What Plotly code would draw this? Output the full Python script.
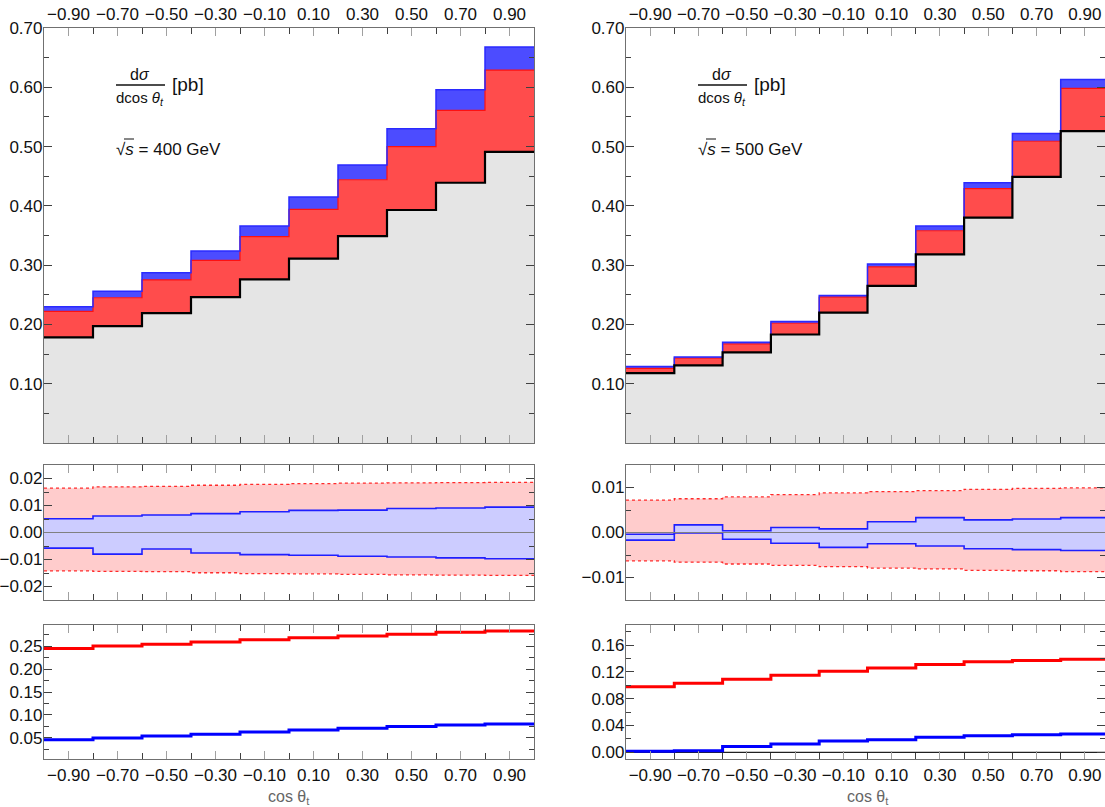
import plotly.graph_objects as go

W, H = 1105, 807
OFF = 0

# ---------------- data ----------------
bin_edges = [-1.0, -0.8, -0.6, -0.4, -0.2, 0.0, 0.2, 0.4, 0.6, 0.8, 1.0]
tick_centers = [-0.9, -0.7, -0.5, -0.3, -0.1, 0.1, 0.3, 0.5, 0.7, 0.9]
tick_labels = ["−0.90", "−0.70", "−0.50", "−0.30", "−0.10", "0.10", "0.30", "0.50", "0.70", "0.90"]

# sqrt(s) = 400 GeV : distributions [pb]
lo_400 = [0.178, 0.197, 0.219, 0.246, 0.276, 0.311, 0.349, 0.393, 0.439, 0.491]
red_400 = [0.222, 0.245, 0.275, 0.308, 0.348, 0.394, 0.444, 0.500, 0.561, 0.629]
blue_400 = [0.230, 0.256, 0.287, 0.324, 0.366, 0.415, 0.469, 0.530, 0.596, 0.668]

# sqrt(s) = 500 GeV
lo_500 = [0.118, 0.131, 0.153, 0.183, 0.220, 0.265, 0.318, 0.380, 0.449, 0.526]
red_500 = [0.126, 0.143, 0.167, 0.202, 0.246, 0.297, 0.358, 0.429, 0.509, 0.598]
blue_500 = [0.129, 0.145, 0.170, 0.205, 0.249, 0.302, 0.366, 0.439, 0.522, 0.613]

# middle panels: uncertainty bands
band_red_up_400 = [0.0164, 0.0169, 0.0171, 0.0175, 0.0178, 0.0181, 0.0183, 0.0184, 0.0185, 0.0186]
band_red_lo_400 = [-0.0142, -0.0144, -0.0145, -0.0149, -0.0152, -0.0153, -0.0155, -0.0157, -0.0158, -0.0159]
band_blue_up_400 = [0.0051, 0.0061, 0.0065, 0.0070, 0.0077, 0.0082, 0.0083, 0.0089, 0.0091, 0.0094]
band_blue_lo_400 = [-0.0058, -0.0080, -0.0061, -0.0076, -0.0082, -0.0084, -0.0088, -0.0091, -0.0094, -0.0097]

band_red_up_500 = [0.0072, 0.0075, 0.0079, 0.0084, 0.0088, 0.0091, 0.0093, 0.0096, 0.0098, 0.0099]
band_red_lo_500 = [-0.0063, -0.0066, -0.0070, -0.0073, -0.0076, -0.0079, -0.0081, -0.0084, -0.0085, -0.0087]
band_blue_up_500 = [-0.0004, 0.0017, 0.0004, 0.0011, 0.0008, 0.0024, 0.0033, 0.0028, 0.0030, 0.0033]
band_blue_lo_500 = [-0.0017, -0.0001, -0.0015, -0.0024, -0.0033, -0.0025, -0.0030, -0.0036, -0.0038, -0.0040]

# bottom panels: ratios
ratio_red_400 = [0.245, 0.250, 0.254, 0.259, 0.264, 0.268, 0.272, 0.276, 0.280, 0.283]
ratio_blue_400 = [0.046, 0.050, 0.054, 0.058, 0.063, 0.067, 0.071, 0.075, 0.078, 0.080]
ratio_red_500 = [0.098, 0.103, 0.109, 0.115, 0.121, 0.126, 0.131, 0.135, 0.137, 0.139]
ratio_blue_500 = [0.0015, 0.0025, 0.0085, 0.0124, 0.0169, 0.0189, 0.0224, 0.0248, 0.0263, 0.0273]

# ---------------- style ----------------
FONT = "Liberation Sans Narrow, Arial Narrow, Liberation Sans, Arial, sans-serif"
GRAY_FILL = "#e5e5e5"
RED_FILL = "#ff4c4c"
BLUE_FILL = "#4c4cff"
PINK = "#ffcccc"
LBLUE = "#ccccff"
FRAME = "#707070"


def px_x(p):
    return (p - OFF) / W


def px_y(p):
    return 1 - (p - OFF) / H


def step(vals):
    return list(vals) + [vals[-1]]


fig = go.Figure()


def add(trace, n):
    sfx = "" if n == 1 else str(n)
    trace.update(xaxis="x" + sfx, yaxis="y" + sfx, showlegend=False, hoverinfo="skip")
    fig.add_trace(trace)


def top_panel(n, lo, red, blue):
    add(go.Scatter(x=bin_edges, y=step(lo), mode="lines", line=dict(width=0, shape="hv"),
                   fill="tozeroy", fillcolor=GRAY_FILL), n)
    add(go.Scatter(x=bin_edges, y=step(red), mode="lines", line=dict(width=0, shape="hv"),
                   fill="tonexty", fillcolor=RED_FILL), n)
    add(go.Scatter(x=bin_edges, y=step(blue), mode="lines", line=dict(width=0, shape="hv"),
                   fill="tonexty", fillcolor=BLUE_FILL), n)
    add(go.Scatter(x=bin_edges, y=step(red), mode="lines", line=dict(width=1.2, shape="hv", color="#ff1010")), n)
    add(go.Scatter(x=bin_edges, y=step(blue), mode="lines", line=dict(width=1.5, shape="hv", color="#2a2aff")), n)
    add(go.Scatter(x=bin_edges, y=step(lo), mode="lines", line=dict(width=2.2, shape="hv", color="#000000")), n)


def mid_panel(n, rlo, rup, blo, bup):
    add(go.Scatter(x=bin_edges, y=step(rlo), mode="lines", line=dict(width=0, shape="hv")), n)
    add(go.Scatter(x=bin_edges, y=step(rup), mode="lines", line=dict(width=0, shape="hv"),
                   fill="tonexty", fillcolor=PINK), n)
    add(go.Scatter(x=bin_edges, y=step(blo), mode="lines", line=dict(width=0, shape="hv")), n)
    add(go.Scatter(x=bin_edges, y=step(bup), mode="lines", line=dict(width=0, shape="hv"),
                   fill="tonexty", fillcolor=LBLUE), n)
    for v in (rlo, rup):
        add(go.Scatter(x=bin_edges, y=step(v), mode="lines",
                       line=dict(width=1.3, shape="hv", color="#ff2a2a", dash="dot")), n)
    for v in (blo, bup):
        add(go.Scatter(x=bin_edges, y=step(v), mode="lines",
                       line=dict(width=1.6, shape="hv", color="#1f1fff")), n)


def bot_panel(n, rr, rb):
    add(go.Scatter(x=bin_edges, y=step(rr), mode="lines", line=dict(width=3, shape="hv", color="#ff0000")), n)
    add(go.Scatter(x=bin_edges, y=step(rb), mode="lines", line=dict(width=3, shape="hv", color="#0000ff")), n)


top_panel(1, lo_400, red_400, blue_400)
top_panel(2, lo_500, red_500, blue_500)
mid_panel(3, band_red_lo_400, band_red_up_400, band_blue_lo_400, band_blue_up_400)
mid_panel(4, band_red_lo_500, band_red_up_500, band_blue_lo_500, band_blue_up_500)
bot_panel(5, ratio_red_400, ratio_blue_400)
bot_panel(6, ratio_red_500, ratio_blue_500)

# ---------------- axes ----------------
left_dom = [px_x(44), px_x(534)]
right_dom = [px_x(626), px_x(1105)]
row_dom = {
    "top": [px_y(443), px_y(28)],
    "mid": [px_y(600), px_y(465)],
    "bot": [px_y(759), px_y(625)],
}
x_right_end = -1 + (1105 - 626) / 48.3 * 0.2


def xaxis(dom, anchor, labels, side, xmax=1.0):
    return dict(
        domain=dom, anchor=anchor, range=[-1, xmax], side=side, automargin=False,
        showline=True, linecolor=FRAME, linewidth=1.2, mirror="ticks",
        ticks="inside", ticklen=8, tickcolor="#a0a0a0", tickwidth=1.3,
        tickvals=tick_centers, ticktext=tick_labels, showticklabels=labels,
        minor=dict(tickvals=bin_edges[1:-1], ticks="inside", ticklen=6,
                   tickcolor="#404040", tickwidth=1),
        showgrid=False, zeroline=False,
        tickfont=dict(family=FONT, size=17, color="#111"),
    )


def yaxis(dom, anchor, rng, tv, fmt, minor_vals):
    return dict(
        domain=dom, anchor=anchor, range=rng, automargin=False,
        showline=True, linecolor=FRAME, linewidth=1.2, mirror="ticks",
        ticks="inside", ticklen=8, tickcolor="#404040", tickwidth=1.2,
        tickvals=tv, ticktext=[fmt(v) for v in tv], ticklabelstandoff=-3,
        minor=dict(tickvals=minor_vals, ticks="inside", ticklen=5,
                   tickcolor="#404040", tickwidth=1),
        showgrid=False, zeroline=False,
        tickfont=dict(family=FONT, size=17, color="#111"),
    )


def f2(v):
    s = f"{v:.2f}"
    return s.replace("-", "−")


top_y = [0.1, 0.2, 0.3, 0.4, 0.5, 0.6, 0.7]
top_minor = [0.05, 0.15, 0.25, 0.35, 0.45, 0.55, 0.65]
midl_y = [-0.02, -0.01, 0.0, 0.01, 0.02]
midl_minor = [-0.015, -0.005, 0.005, 0.015]
midr_y = [-0.01, 0.0, 0.01]
midr_minor = [-0.005, 0.005]
botl_y = [0.05, 0.10, 0.15, 0.20, 0.25]
botl_minor = [0.025, 0.075, 0.125, 0.175, 0.225, 0.275]
botr_y = [0.0, 0.04, 0.08, 0.12, 0.16]
botr_minor = [0.02, 0.06, 0.10, 0.14, 0.18]

fig.update_layout(
    xaxis=xaxis(left_dom, "y", True, "top"),
    xaxis2=xaxis(right_dom, "y2", True, "top", x_right_end),
    xaxis3=xaxis(left_dom, "y3", False, "bottom"),
    xaxis4=xaxis(right_dom, "y4", False, "bottom", x_right_end),
    xaxis5=xaxis(left_dom, "y5", True, "bottom"),
    xaxis6=xaxis(right_dom, "y6", True, "bottom", x_right_end),
    yaxis=yaxis(row_dom["top"], "x", [0, 0.7], top_y, f2, top_minor),
    yaxis2=yaxis(row_dom["top"], "x2", [0, 0.7], top_y, f2, top_minor),
    yaxis3=yaxis(row_dom["mid"], "x3", [-0.025, 0.025], midl_y, f2, midl_minor),
    yaxis4=yaxis(row_dom["mid"], "x4", [-0.015, 0.015], midr_y, f2, midr_minor),
    yaxis5=yaxis(row_dom["bot"], "x5", [0.004, 0.296], botl_y, f2, botl_minor),
    yaxis6=yaxis(row_dom["bot"], "x6", [-0.01, 0.19], botr_y, f2, botr_minor),
)

# reference zero lines
fig.add_shape(type="line", xref="x3 domain", yref="y3", x0=0, x1=1, y0=0, y1=0,
              line=dict(color="#808080", width=1.2), layer="above")
fig.add_shape(type="line", xref="x4 domain", yref="y4", x0=0, x1=1, y0=0, y1=0,
              line=dict(color="#808080", width=1.2), layer="above")
fig.add_shape(type="line", xref="x6 domain", yref="y6", x0=0, x1=1, y0=0, y1=0,
              line=dict(color="#202020", width=1.2), layer="below")

# ---------------- annotations ----------------
energies = ["400", "500"]
for i, x0 in enumerate([44, 626]):
    cx = x0 + 96
    fig.add_annotation(xref="paper", yref="paper", x=px_x(cx), y=px_y(75),
                       text="d<i>σ</i>", showarrow=False, xanchor="center", yanchor="middle",
                       font=dict(family=FONT, size=16, color="#111"))
    fig.add_shape(type="line", xref="paper", yref="paper",
                  x0=px_x(x0 + 72), x1=px_x(x0 + 121), y0=px_y(85), y1=px_y(85),
                  line=dict(color="#111", width=1.3))
    fig.add_annotation(xref="paper", yref="paper", x=px_x(cx), y=px_y(98),
                       text="dcos <i>θ<sub>t</sub></i>", showarrow=False, xanchor="center",
                       yanchor="middle", font=dict(family=FONT, size=15, color="#111"))
    fig.add_annotation(xref="paper", yref="paper", x=px_x(x0 + 126), y=px_y(84),
                       text="[pb]", showarrow=False, xanchor="left", yanchor="middle",
                       font=dict(family=FONT, size=19, color="#111"))
    fig.add_annotation(xref="paper", yref="paper", x=px_x(x0 + 70), y=px_y(150),
                       text="√<i>s</i> = " + energies[i] + " GeV", showarrow=False,
                       xanchor="left", yanchor="middle",
                       font=dict(family=FONT, size=17, color="#111"))
    fig.add_shape(type="line", xref="paper", yref="paper",
                  x0=px_x(x0 + 80), x1=px_x(x0 + 90), y0=px_y(139), y1=px_y(139),
                  line=dict(color="#111", width=1))

for cx in [289, 868]:
    fig.add_annotation(xref="paper", yref="paper", x=px_x(cx),
                       y=px_y(797), text="cos θ<sub>t</sub>", showarrow=False,
                       xanchor="center", yanchor="middle",
                       font=dict(family="Liberation Sans, Arial, sans-serif", size=16, color="#666"))

fig.update_layout(
    width=W, height=H,
    margin=dict(l=0, r=0, t=0, b=0),
    paper_bgcolor="white", plot_bgcolor="white",
    showlegend=False,
)

fig.write_html("out.html", config={"displayModeBar": False},
               post_script="document.body.style.margin='0';")
